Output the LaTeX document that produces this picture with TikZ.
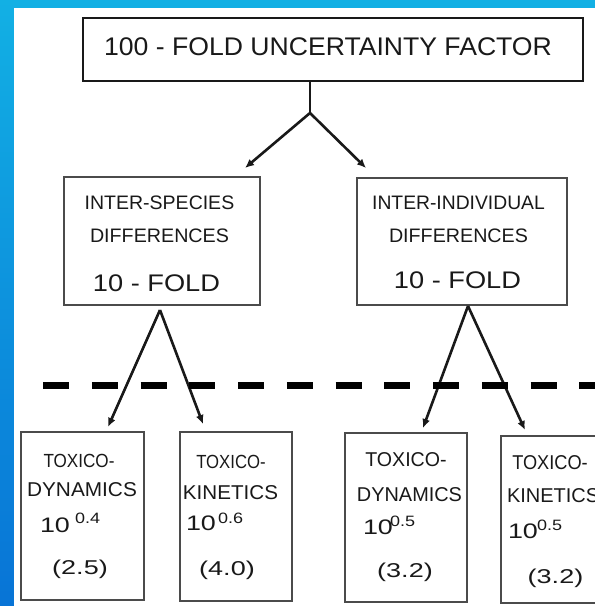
\documentclass[tikz,border=0pt]{standalone}
\usepackage{fontspec}
\usepackage{graphicx}
\setmainfont{Liberation Sans}
\usetikzlibrary{arrows.meta}
\newcommand{\tx}[3]{{\fontsize{#1}{#1}\selectfont\scalebox{#2}[1]{#3}}}
\definecolor{ink}{RGB}{25,25,25}
\definecolor{boxline}{RGB}{75,75,75}
\definecolor{bgtop}{RGB}{18,176,228}
\definecolor{bgbot}{RGB}{8,116,214}
\begin{document}
\begin{tikzpicture}[x=1pt,y=-1pt,
  box/.style={draw=boxline,line width=1.8pt,rectangle,inner sep=0pt,outer sep=0pt},
  lbl/.style={inner sep=0pt,outer sep=0pt,text=ink},
  conn/.style={draw=ink,line width=2.6pt},
  arr/.style={conn,-{Latex[length=9pt,width=8pt]}},
  dashline/.style={draw=black,line width=7pt,dash pattern=on 26pt off 22.75pt}]
\useasboundingbox (0,0) rectangle (595,606);
\clip (0,0) rectangle (595,606);
\shade[top color=bgtop,bottom color=bgbot] (0,0) rectangle (595,606);
\fill[white] (14,8) rectangle (600,610);

% boxes
\node[box,draw=ink,line width=2.4pt,minimum width=500pt,minimum height=63pt] (top) at (333,49.5) {};
\node[box,minimum width=196pt,minimum height=128pt] (ml) at (162,241) {};
\node[box,minimum width=210pt,minimum height=127pt] (mr) at (462,241.5) {};
\node[box,minimum width=123pt,minimum height=168pt] (b1) at (82.5,516) {};
\node[box,minimum width=112pt,minimum height=169pt] (b2) at (236,516.5) {};
\node[box,minimum width=122pt,minimum height=169pt] (b3) at (406,517.5) {};
\node[box,minimum width=124pt,minimum height=167pt] (b4) at (563,519.5) {};

% texts
\node[lbl] (ttop) at (328,46.5) {\tx{25.5}{1.043}{100 - FOLD UNCERTAINTY FACTOR}};
\node[lbl] (ml1) at (159.5,203) {\tx{19.5}{1.0}{INTER-SPECIES}};
\node[lbl] (ml2) at (159.5,235.5) {\tx{19.5}{1.01}{DIFFERENCES}};
\node[lbl] (ml3) at (156.5,283.5) {\tx{24}{1.134}{10 - FOLD}};
\node[lbl] (mr1) at (458.5,203) {\tx{19.5}{0.99}{INTER-INDIVIDUAL}};
\node[lbl] (mr2) at (458.5,235.5) {\tx{19.5}{1.01}{DIFFERENCES}};
\node[lbl] (mr3) at (457.5,280) {\tx{24}{1.134}{10 - FOLD}};

\node[lbl] (b1a) at (79,460.5) {\tx{19}{0.9}{TOXICO-}};
\node[lbl] (b1b) at (82,490) {\tx{20}{1.04}{DYNAMICS}};
\node[lbl,anchor=base west] (b1c) at (40,532) {\tx{21}{1.28}{10}};
\node[lbl,anchor=base west] (b1d) at (75,523) {\tx{15}{1.2}{0.4}};
\node[lbl] (b1e) at (80,569) {\tx{20}{1.35}{(2.5)}};

\node[lbl] (b2a) at (231,461.5) {\tx{19}{0.88}{TOXICO-}};
\node[lbl] (b2b) at (230.5,492.5) {\tx{20}{1.03}{KINETICS}};
\node[lbl,anchor=base west] (b2c) at (186,530) {\tx{21}{1.28}{10}};
\node[lbl,anchor=base west] (b2d) at (218,523) {\tx{15}{1.2}{0.6}};
\node[lbl] (b2e) at (227,570) {\tx{20}{1.35}{(4.0)}};

\node[lbl] (b3a) at (406,460) {\tx{20}{0.98}{TOXICO-}};
\node[lbl] (b3b) at (409.5,495) {\tx{20}{0.995}{DYNAMICS}};
\node[lbl,anchor=base west] (b3c) at (363,534) {\tx{21}{1.28}{10}};
\node[lbl,anchor=base west] (b3d) at (390,526) {\tx{15}{1.2}{0.5}};
\node[lbl] (b3e) at (405,572) {\tx{20}{1.35}{(3.2)}};

\node[lbl] (b4a) at (550,462.5) {\tx{20}{0.91}{TOXICO-}};
\node[lbl,anchor=west] (b4b) at (507,495.5) {\tx{20}{1.0}{KINETICS}};
\node[lbl,anchor=base west] (b4c) at (508,538) {\tx{21}{1.28}{10}};
\node[lbl,anchor=base west] (b4d) at (537,530) {\tx{15}{1.2}{0.5}};
\node[lbl] (b4e) at (555.5,578) {\tx{20}{1.35}{(3.2)}};

% connectors
\coordinate (j) at (310,113);
\coordinate (tl) at (245,168);
\coordinate (tr) at (366,168);
\draw[conn] (top.south -| j) -- (j);
\draw[arr] (j) -- (tl);
\draw[arr] (j) -- (tr);

\coordinate (al) at (160,310);
\coordinate (ar) at (468,306);
\coordinate (p1) at (108,427);
\coordinate (p2) at (203,424);
\coordinate (p3) at (423,428);
\coordinate (p4) at (525,430);
\draw[arr] (al) -- (p1);
\draw[arr] (al) -- (p2);
\draw[arr] (ar) -- (p3);
\draw[arr] (ar) -- (p4);

% dashed separator
\coordinate (d0) at (43,385);
\coordinate (d1) at (600,385);
\draw[dashline] (d0) -- (d1);
\end{tikzpicture}
\end{document}
